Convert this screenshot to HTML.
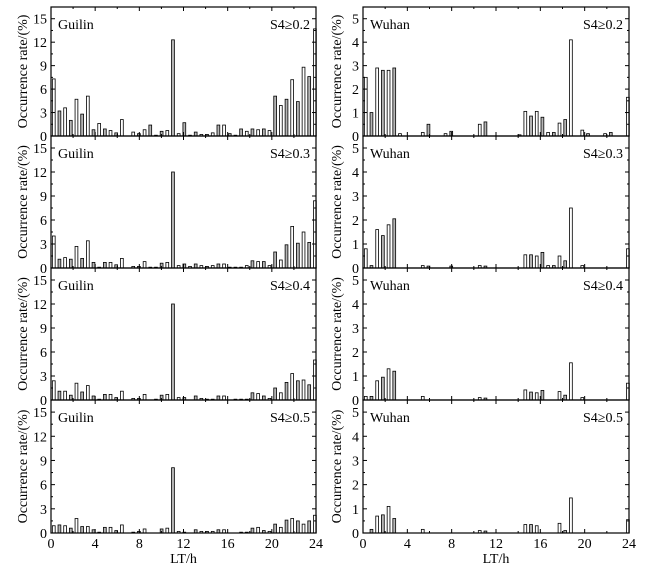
<!DOCTYPE html>
<html><head><meta charset="utf-8"><style>
html,body{margin:0;padding:0;background:#fff}
svg{display:block;font-family:"Liberation Serif",serif}
</style></head><body>
<svg id="c" width="655" height="571" viewBox="0 0 655 571"></svg>
<script>
const binCount = 47;
const guilin02 = [7.3,3.2,3.6,2.0,4.7,2.8,5.1,0.8,1.6,0.9,0.7,0.4,2.1,0,0.5,0.3,0.8,1.4,0.1,0.6,0.7,12.3,0.3,1.7,0.1,0.5,0.2,0.2,0.4,1.4,1.4,0.3,0.1,0.9,0.6,0.9,0.8,0.9,0.7,5.1,3.9,4.7,7.2,4.4,8.8,7.6,13.7];
const guilin03 = [4.0,1.1,1.3,1.1,2.7,1.2,3.4,0.7,0.1,0.7,0.7,0.4,1.2,0,0.2,0.2,0.8,0.1,0.1,0.6,0.7,12.0,0.3,0.5,0.2,0.5,0.3,0.2,0.3,0.5,0.5,0.1,0.1,0.1,0.3,0.9,0.8,0.8,0.3,2.0,1.0,2.9,5.2,3.1,4.5,3.2,8.4];
const guilin04 = [2.4,1.1,1.1,0.6,2.1,1.0,1.8,0.5,0.1,0.7,0.7,0.3,1.1,0,0.2,0.2,0.7,0,0.1,0.6,0.7,12.0,0.3,0.3,0,0.5,0.2,0.1,0.1,0.5,0.5,0,0.1,0.1,0.1,0.9,0.8,0.5,0.2,1.5,0.9,2.2,3.3,2.4,2.5,1.9,5.0];
const guilin05 = [0.9,1.0,0.9,0.6,1.8,0.8,0.8,0.4,0.1,0.7,0.7,0.3,1.0,0,0.1,0.2,0.5,0,0,0.5,0.6,8.1,0.2,0.1,0,0.4,0.2,0.2,0.2,0.4,0.4,0,0,0.1,0.1,0.6,0.7,0.3,0.2,1.1,0.7,1.6,1.8,1.5,1.1,1.5,2.2];
const wuhan02 = [2.5,1.0,2.9,2.8,2.8,2.9,0.1,0,0,0,0.15,0.5,0,0,0.1,0.2,0,0,0,0,0.5,0.6,0,0,0,0,0,0.05,1.05,0.85,1.05,0.8,0.15,0.15,0.55,0.7,4.1,0,0.25,0.1,0,0,0.1,0.15,0,0,1.65];
const wuhan03 = [0.8,0.1,1.6,1.35,1.8,2.05,0,0,0,0,0.1,0.08,0,0,0,0.08,0,0,0,0,0.1,0.08,0,0,0,0,0,0,0.55,0.55,0.5,0.65,0.1,0.1,0.5,0.3,2.5,0,0.1,0,0,0,0,0,0,0,0.8];
const wuhan04 = [0.15,0.15,0.8,0.95,1.3,1.2,0,0,0,0,0.15,0,0,0,0,0,0,0,0,0,0.1,0.08,0,0,0,0,0,0,0.42,0.33,0.3,0.4,0,0,0.35,0.2,1.55,0,0.1,0,0,0,0,0,0,0,0.7];
const wuhan05 = [0,0.15,0.7,0.75,1.1,0.6,0,0,0,0,0.15,0,0,0,0,0,0,0,0,0,0.1,0.08,0,0,0,0,0,0,0.35,0.35,0.3,0,0,0,0.4,0.1,1.45,0,0,0,0,0,0,0,0,0,0.55];
const xTicks = [0,4,8,12,16,20,24];
const guilinYTicks = [0,3,6,9,12,15];
const wuhanYTicks = [0,1,2,3,4,5];
const thresholds = ["S4\u22650.2","S4\u22650.3","S4\u22650.4","S4\u22650.5"];

const NS="http://www.w3.org/2000/svg";
const svg=document.getElementById('c');
function mk(tag,attrs,parent){const e=document.createElementNS(NS,tag);for(const k in attrs)e.setAttribute(k,attrs[k]);(parent||svg).appendChild(e);return e;}
const rowsY=[7,136,268,400,533];
const cols=[{x0:51,x1:316,ymax:16.5,ticks:guilinYTicks,minor:1.5,name:"Guilin",data:[guilin02,guilin03,guilin04,guilin05],lx:27},
            {x0:363,x1:629,ymax:5.5,ticks:wuhanYTicks,minor:0.5,name:"Wuhan",data:[wuhan02,wuhan03,wuhan04,wuhan05],lx:341}];
cols.forEach((c,ci)=>{
  const xs=h=>c.x0+(c.x1-c.x0)*h/24;
  for(let r=0;r<4;r++){
    const top=rowsY[r],bot=rowsY[r+1];
    const ys=v=>bot-(bot-top)*v/c.ymax;
    const g=mk('g',{});
    
    
    const vals=c.data[r];
    vals.forEach((v,k)=>{
      if(v<=0)return;
      const h=0.25+k*(23.65/(binCount-1));
      const b=mk('rect',{x:xs(h)-1.4,y:ys(v),width:2.8,height:bot-ys(v),fill:(k%2?'#b5b5b5':'#fff'),stroke:'#000','stroke-width':0.8},g);
      
      
    });
    // ticks
    for(let h=0;h<=24;h+=2){const L=h%4===0?4:2;
      mk('line',{x1:xs(h),x2:xs(h),y1:bot,y2:bot-L,stroke:'#000','stroke-width':1},g);
      mk('line',{x1:xs(h),x2:xs(h),y1:top,y2:top+L,stroke:'#000','stroke-width':1},g);}
    for(let v=0;v<c.ymax;v+=c.minor){const major=c.ticks.some(t=>Math.abs(t-v)<1e-6);const L=major?4:2;
      mk('line',{x1:c.x0,x2:c.x0+L,y1:ys(v),y2:ys(v),stroke:'#000','stroke-width':1},g);
      mk('line',{x1:c.x1,x2:c.x1-L,y1:ys(v),y2:ys(v),stroke:'#000','stroke-width':1},g);}
    c.ticks.forEach(t=>{const tl=mk('text',{x:c.x0-4,y:ys(t)+5,'text-anchor':'end','font-size':14},g);tl.textContent=t;
      });
    mk('rect',{x:c.x0,y:top,width:c.x1-c.x0,height:bot-top,fill:'none',stroke:'#000','stroke-width':1.2},g);
    const st=mk('text',{x:c.x0+7,y:top+22,'font-size':14},g);st.textContent=c.name;
    
    const th=mk('text',{x:c.x1-6,y:top+22,'text-anchor':'end','font-size':14,'font-family':'"Liberation Serif","Noto Serif CJK SC",serif'},g);th.textContent=thresholds[r];
    
    const yl=mk('text',{x:0,y:0,'text-anchor':'middle','font-size':14,transform:`translate(${c.lx},${(top+bot)/2}) rotate(-90)`},g);yl.textContent='Occurrence rate/(%)';
    
  }
  xTicks.forEach(t=>{const tl=mk('text',{x:xs(t),y:548,'text-anchor':'middle','font-size':14});tl.textContent=t;
    });
  const xt=mk('text',{x:(c.x0+c.x1)/2,y:563,'text-anchor':'middle','font-size':14});xt.textContent='LT/h';
  
});
</script>
</body></html>
